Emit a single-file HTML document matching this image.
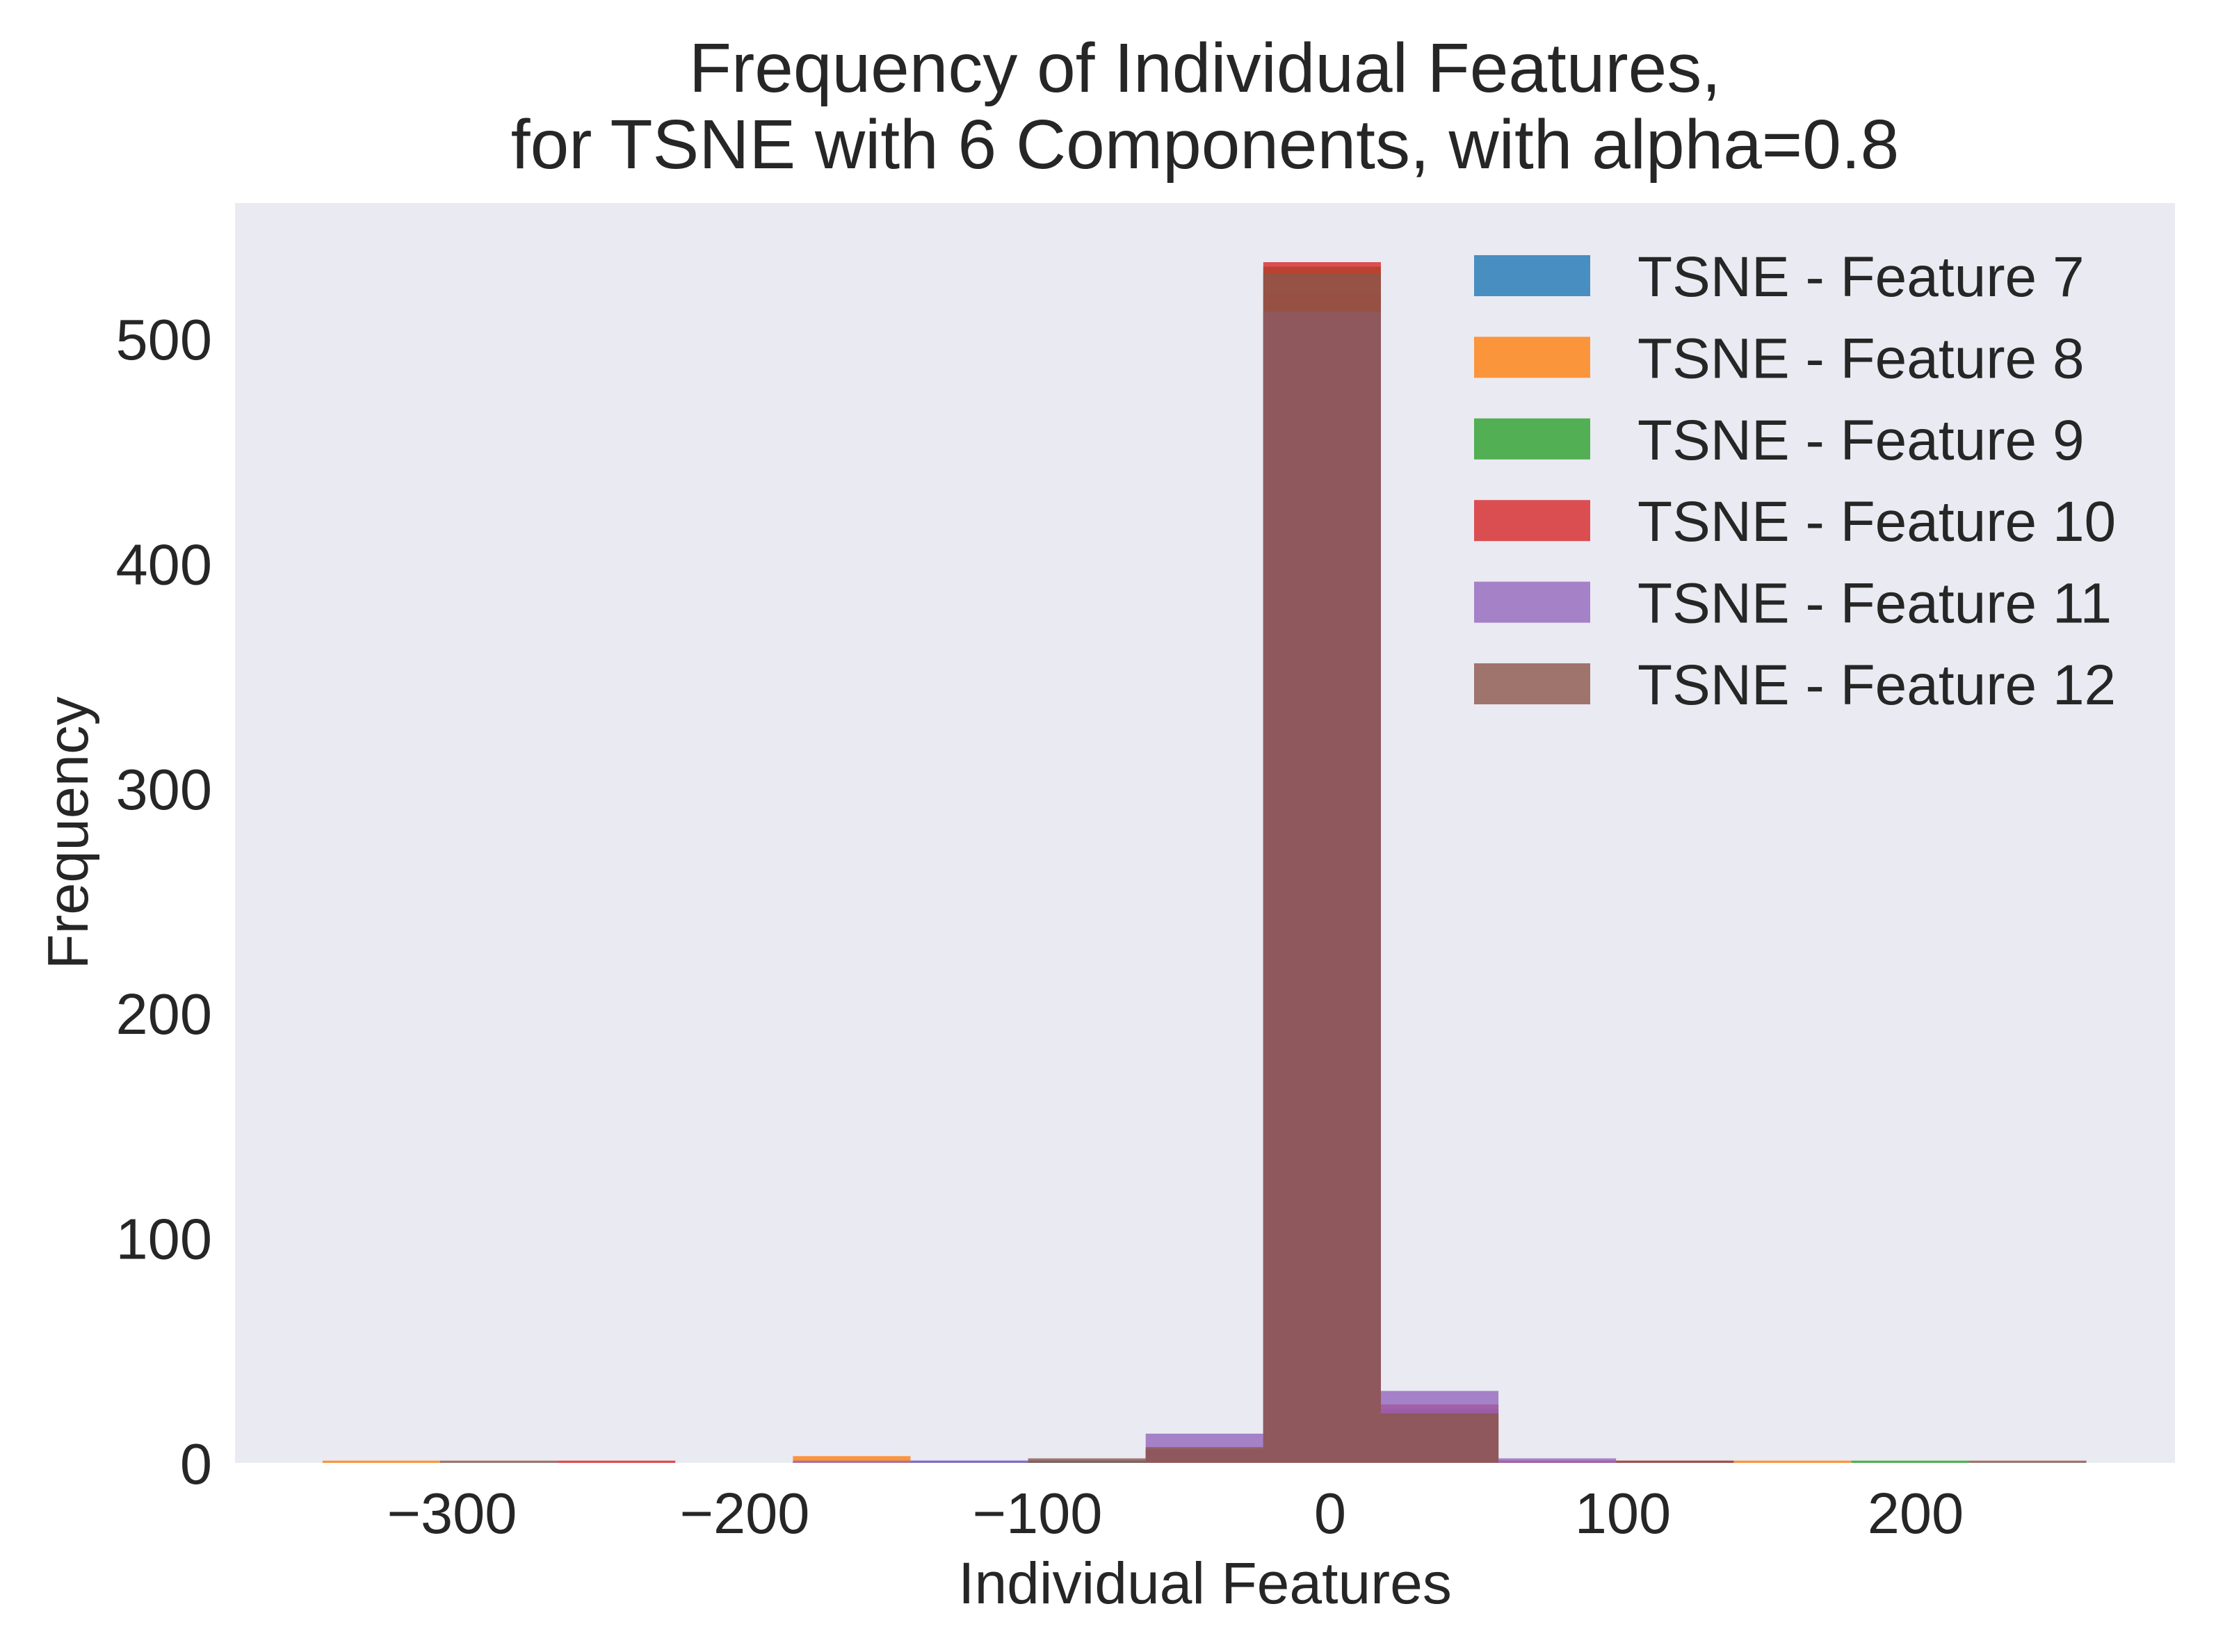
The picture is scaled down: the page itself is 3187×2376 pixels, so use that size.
<!DOCTYPE html>
<html><head><meta charset="utf-8"><style>
html,body{margin:0;padding:0;background:#fff;}
svg{display:block;font-family:"Liberation Sans",Arial,sans-serif;}
</style></head><body>
<svg id="chart" width="3187" height="2376" viewBox="0 0 3187 2376" xmlns="http://www.w3.org/2000/svg">
<rect x="338" y="292" width="2790" height="1812" fill="#eaeaf2"/>
<g id="bars"></g>
<g id="xticks"></g>
<g id="yticks"></g>
<text x="1733" y="132" font-size="100" fill="#262626" text-anchor="middle">Frequency of Individual Features,</text>
<text x="1733" y="242" font-size="100" fill="#262626" text-anchor="middle">for TSNE with 6 Components, with alpha=0.8</text>
<text x="1733" y="2306" font-size="84" fill="#262626" text-anchor="middle">Individual Features</text>
<text x="0" y="0" font-size="83" fill="#262626" text-anchor="middle" transform="translate(126,1198) rotate(-90)">Frequency</text>
<g id="legend"></g>
</svg>
<script>
const seriesNames = ["TSNE - Feature 7","TSNE - Feature 8","TSNE - Feature 9","TSNE - Feature 10","TSNE - Feature 11","TSNE - Feature 12"];
const colors = ["#1f77b4","#ff7f0e","#2ca02c","#d62728","#9467bd","#8c564b"];
const binStart = -344.2;
const binWidth = 40.17;
const f7  = [0,0,0,0,0,1,1,5,512,24,0,0,0,0,0];
const f8  = [1,0,0,0,3,0,0,4,520,20,0,0,1,0,0];
const f9  = [0,0,0,0,0,0,0,4,532,21,0,0,0,1,0];
const f10 = [0,0,1,0,0,0,0,6,534,26,1,1,0,0,0];
const f11 = [0,0,0,0,1,1,0,13,512,32,2,0,0,0,0];
const f12 = [0,1,0,0,0,0,2,7,529,22,0,1,0,0,1];
const xTicks = [-300,-200,-100,0,100,200];
const yTicks = [0,100,200,300,400,500];

const NS="http://www.w3.org/2000/svg";
const X0=338,X1=3128,Y0=2104,Y1=292;
const xMin=-374.1,xMax=288.6,yMin=0,yMax=560.3;
function sx(v){return X0+(v-xMin)/(xMax-xMin)*(X1-X0);}
function sy(v){return Y0-(v-yMin)/(yMax-yMin)*(Y0-Y1);}
function mk(tag,attrs){const e=document.createElementNS(NS,tag);for(const k in attrs)e.setAttribute(k,attrs[k]);return e;}

const series=[f7,f8,f9,f10,f11,f12];
const bars=document.getElementById('bars');
series.forEach((vals,si)=>{
  vals.forEach((v,i)=>{
    if(v<=0)return;
    const a=binStart+i*binWidth,b=a+binWidth;
    const r=mk('rect',{x:sx(a),y:sy(v),width:sx(b)-sx(a),height:sy(0)-sy(v),fill:colors[si],'fill-opacity':0.8});
    
    
    bars.appendChild(r);
  });
});
const xt=document.getElementById('xticks');
xTicks.forEach(t=>{
  const e=mk('text',{x:sx(t),y:2205,'font-size':83,fill:'#262626','text-anchor':'middle'});
  e.textContent=t<0?'\u2212'+Math.abs(t):String(t);
  
  
  xt.appendChild(e);
});
const yt=document.getElementById('yticks');
yTicks.forEach(t=>{
  const e=mk('text',{x:305,y:sy(t)+30,'font-size':83,fill:'#262626','text-anchor':'end'});
  e.textContent=String(t);
  
  
  yt.appendChild(e);
});
const lg=document.getElementById('legend');
seriesNames.forEach((n,i)=>{
  const top=367+i*117.4;
  const r=mk('rect',{x:2120,y:top,width:167,height:59,fill:colors[i],'fill-opacity':0.8});
  
  
  lg.appendChild(r);
  const t=mk('text',{x:2355,y:top+59,'font-size':82,fill:'#262626'});
  t.textContent=n;
  
  
  lg.appendChild(t);
});
</script>
</body></html>
